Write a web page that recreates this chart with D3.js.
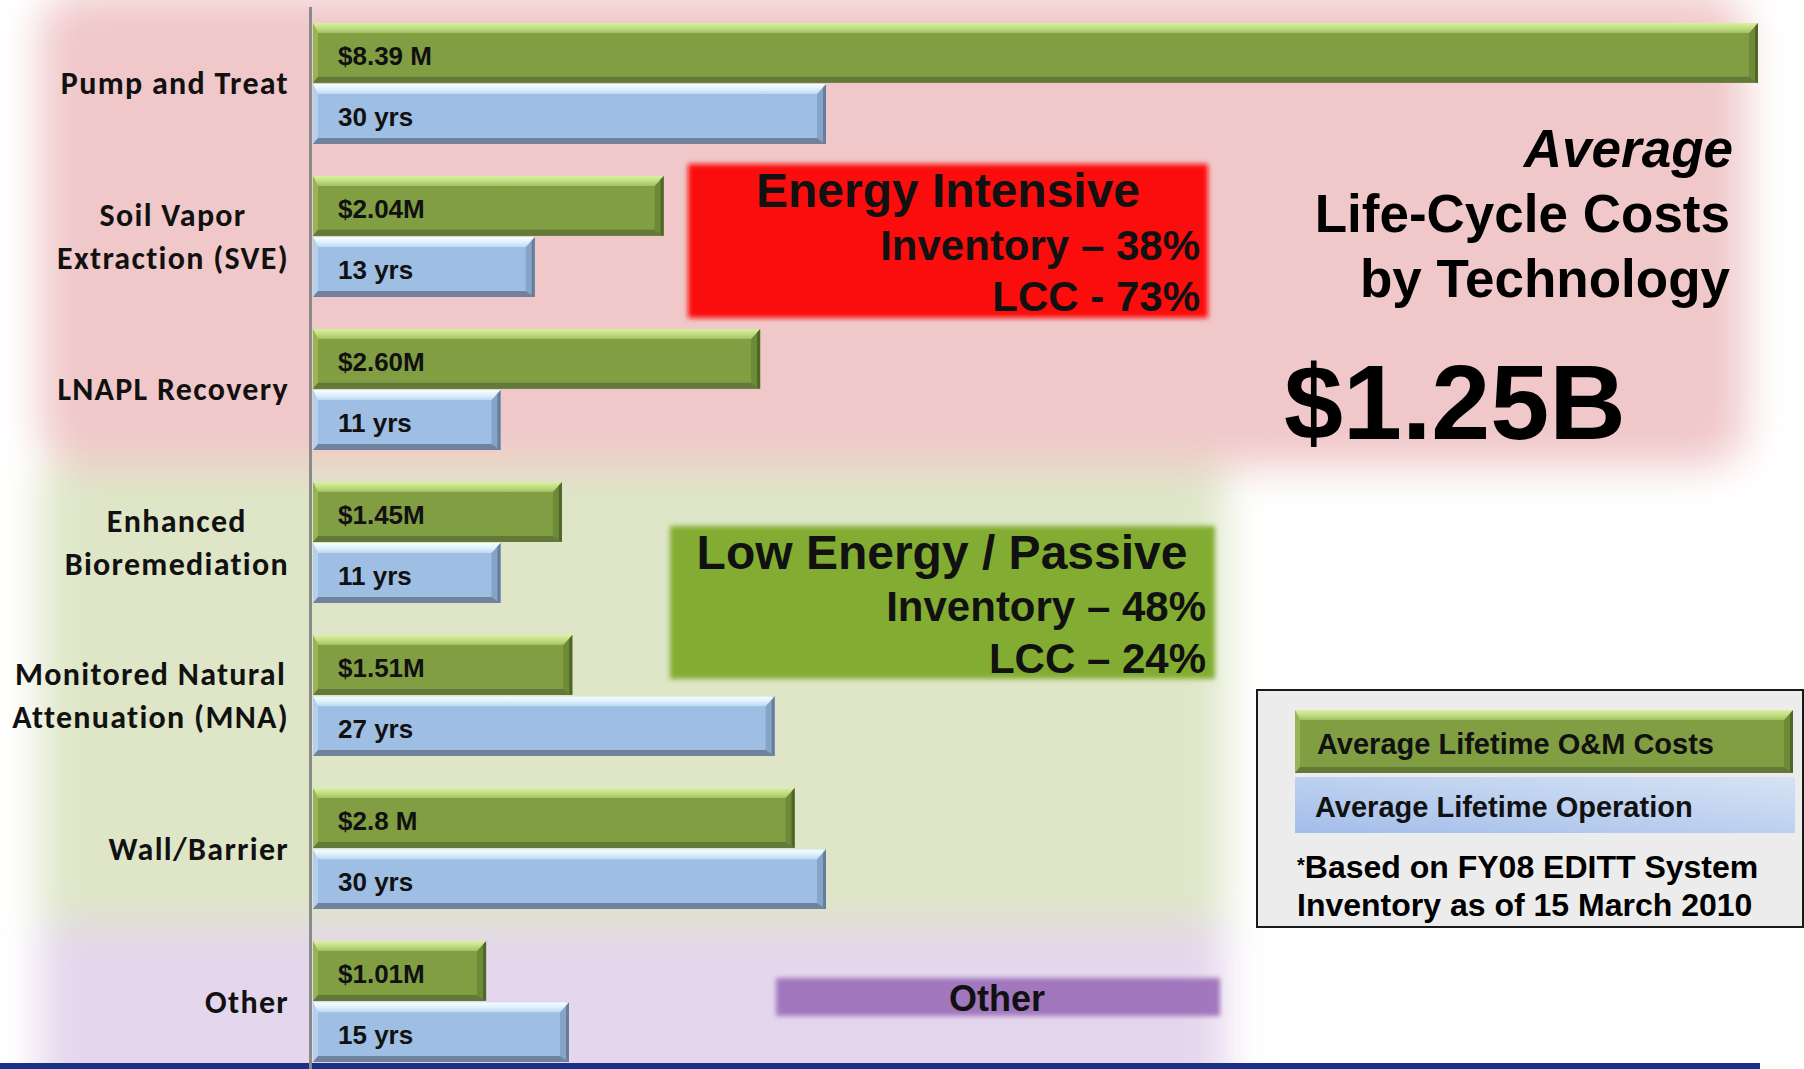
<!DOCTYPE html>
<html>
<head>
<meta charset="utf-8">
<script src="https://cdn.jsdelivr.net/npm/d3@7"></script>
<style>
  html, body { margin: 0; padding: 0; background: #ffffff; }
  svg { display: block; }
</style>
</head>
<body>
<script>
// ---------------- DATA ----------------
const categories = ["Pump and Treat", "Soil Vapor Extraction (SVE)", "LNAPL Recovery",
  "Enhanced Bioremediation", "Monitored Natural Attenuation (MNA)", "Wall/Barrier", "Other"];
const categoryLines = [["Pump and Treat"], ["Soil Vapor", "Extraction (SVE)"], ["LNAPL Recovery"],
  ["Enhanced", "Bioremediation"], ["Monitored Natural", "Attenuation (MNA)"], ["Wall/Barrier"], ["Other"]];
const costs = [8.39, 2.04, 2.60, 1.45, 1.51, 2.8, 1.01];          // $M, average lifetime O&M cost
const costLabels = ["$8.39 M", "$2.04M", "$2.60M", "$1.45M", "$1.51M", "$2.8 M", "$1.01M"];
const years = [30, 13, 11, 11, 27, 30, 15];                        // average lifetime operation
const yearLabels = ["30 yrs", "13 yrs", "11 yrs", "11 yrs", "27 yrs", "30 yrs", "15 yrs"];
const seriesNames = ["Average Lifetime O&M Costs", "Average Lifetime Operation"];
const titleLines = ["Average", "Life-Cycle Costs", "by Technology"];
const totalLabel = "$1.25B";
const groupBoxes = [
  { title: "Energy Intensive", lines: ["Inventory \u2013 38%", "LCC - 73%"] },
  { title: "Low Energy / Passive", lines: ["Inventory \u2013 48%", "LCC \u2013 24%"] },
  { title: "Other", lines: [] }
];
const footnote = ["Based on FY08 EDITT System", "Inventory as of 15 March 2010"];

// ---------------- LAYOUT ----------------
const W = 1804, H = 1069;
const axisX = 312;
const arial = "'Liberation Sans', Arial, Helvetica, sans-serif";
const calibri = "Carlito, Calibri, Lato, 'Open Sans', sans-serif";

const svg = d3.select("body").append("svg").attr("width", W).attr("height", H);
const defs = svg.append("defs");

const fBg = defs.append("filter").attr("id", "bgblur").attr("filterUnits", "userSpaceOnUse")
  .attr("x", -200).attr("y", -200).attr("width", W + 400).attr("height", H + 400);
fBg.append("feGaussianBlur").attr("stdDeviation", 20);
const fSoft = defs.append("filter").attr("id", "soft").attr("x", "-10%").attr("y", "-20%")
  .attr("width", "120%").attr("height", "140%");
fSoft.append("feGaussianBlur").attr("stdDeviation", 2.5);

function vGrad(id, stops, x2 = 0, y2 = 1, x1 = 0, y1 = 0) {
  const g = defs.append("linearGradient").attr("id", id)
    .attr("x1", x1).attr("y1", y1).attr("x2", x2).attr("y2", y2);
  stops.forEach(([o, c]) => g.append("stop").attr("offset", o).attr("stop-color", c));
}
vGrad("topGreen", [[0, "#d8f19e"], [0.5, "#c2de84"], [1, "#a2c060"]]);
vGrad("topBlue", [[0, "#f6ffff"], [0.5, "#def2fd"], [1, "#bcd8f2"]]);
vGrad("legBlue", [[0, "#a3bdea"], [1, "#d6e3f4"]], 1, 0, 0, 1);

// ---------------- SCALES ----------------
const y = d3.scaleBand().domain(categories).range([23, 1062]).paddingInner(0.21).paddingOuter(0);
const sub = d3.scaleBand().domain(seriesNames).range([0, y.bandwidth()]).paddingInner(0.02);
const xCost = d3.scaleLinear().domain([0, 8.39]).range([axisX, 1758]);
const xYears = d3.scaleLinear().domain([0, 30]).range([axisX, 826]);

// ---------------- BACKGROUND ZONES ----------------
const bg = svg.append("g").attr("filter", "url(#bgblur)");
const zoneTop = y(categories[0]) - 30, zoneSplit1 = (y(categories[2]) + y.bandwidth() + y(categories[3])) / 2,
      zoneSplit2 = (y(categories[5]) + y.bandwidth() + y(categories[6])) / 2;
bg.append("rect").attr("x", 40).attr("y", zoneTop).attr("width", 1705).attr("height", zoneSplit1 - zoneTop)
  .attr("rx", 40).attr("fill", "#f0c8c9");
bg.append("rect").attr("x", 40).attr("y", zoneSplit1).attr("width", 1185).attr("height", zoneSplit2 - zoneSplit1)
  .attr("fill", "#dee6c7");
bg.append("rect").attr("x", 40).attr("y", zoneSplit2).attr("width", 1185).attr("height", H + 40 - zoneSplit2)
  .attr("fill", "#e4d6ec");
svg.append("rect").attr("x", 0).attr("y", H - 6).attr("width", 1760).attr("height", 6).attr("fill", "#1b3187");

// axis line
svg.append("line").attr("x1", axisX - 1.5).attr("x2", axisX - 1.5).attr("y1", 7).attr("y2", H)
  .attr("stroke", "#8a8a8a").attr("stroke-width", 3);

// ---------------- BARS ----------------
const pal = {
  green: { main: "#819e43", top: "url(#topGreen)", left: "#98b556", right: "#6d8a37", edge: "#4f6628", bottom: "#62793a" },
  blue:  { main: "#9ebee4", top: "url(#topBlue)",  left: "#b4d0ee", right: "#86a3c8", edge: "#667d9c", bottom: "#71839c" }
};
function bevelBar(g, x0, y0, x1, y1, p) {
  const bt = 10, bb = 6, br = 9;
  g.append("rect").attr("x", x0).attr("y", y0).attr("width", x1 - x0).attr("height", y1 - y0).attr("fill", p.main);
  g.append("polygon").attr("fill", p.left)
    .attr("points", [[x0, y0], [x0 + 5, y0 + bt], [x0 + 5, y1 - bb], [x0, y1]].join(" "));
  g.append("polygon").attr("fill", p.right)
    .attr("points", [[x1, y0], [x1, y1], [x1 - br, y1 - bb], [x1 - br, y0 + bt]].join(" "));
  g.append("rect").attr("x", x1 - 3).attr("y", y0).attr("width", 3).attr("height", y1 - y0).attr("fill", p.edge);
  g.append("polygon").attr("fill", p.bottom)
    .attr("points", [[x0, y1], [x1, y1], [x1 - br, y1 - bb], [x0 + 5, y1 - bb]].join(" "));
  g.append("polygon").attr("fill", p.top)
    .attr("points", [[x0, y0], [x1, y0], [x1 - br, y0 + bt], [x0 + 5, y0 + bt]].join(" "));
}

const groups = svg.selectAll("g.cat").data(categories).join("g").attr("class", "cat")
  .attr("transform", d => `translate(0,${y(d)})`);

groups.each(function (d, i) {
  const g = d3.select(this);
  const gy0 = sub(seriesNames[0]), gy1 = gy0 + sub.bandwidth();
  bevelBar(g, xCost(0) + 1, gy0, xCost(costs[i]), gy1, pal.green);
  const by0 = sub(seriesNames[1]), by1 = by0 + sub.bandwidth();
  bevelBar(g, xYears(0) + 1, by0, xYears(years[i]), by1, pal.blue);

  g.append("text").attr("x", axisX + 26).attr("y", (gy0 + gy1) / 2 + 12)
    .attr("font-family", arial).attr("font-weight", "bold").attr("font-size", 26).attr("fill", "#111")
    .text(costLabels[i]);
  g.append("text").attr("x", axisX + 26).attr("y", (by0 + by1) / 2 + 12)
    .attr("font-family", arial).attr("font-weight", "bold").attr("font-size", 26).attr("fill", "#111")
    .text(yearLabels[i]);

  // category label
  const lines = categoryLines[i];
  const cy = y.bandwidth() / 2 + 11;
  const lh = 42.5;
  const t = g.append("g");
  const texts = lines.map((ln, k) => t.append("text")
    .attr("y", cy + (k - (lines.length - 1) / 2) * lh)
    .attr("font-family", calibri).attr("font-weight", "bold").attr("font-size", 32)
    .attr("letter-spacing", 1.3).attr("fill", "#111")
    .attr("text-anchor", "middle").text(ln));
  const maxW = d3.max(texts, s => s.node().getComputedTextLength());
  texts.forEach(s => s.attr("x", 289 - maxW / 2));
});

// ---------------- ANNOTATION BOXES ----------------
function annoBox(x, y0, w, h, color, box, titleY, titleCx, titleSize, lineYs, lineRight, lineSize) {
  svg.append("rect").attr("x", x).attr("y", y0).attr("width", w).attr("height", h)
    .attr("fill", color).attr("filter", "url(#soft)");
  svg.append("text").attr("x", titleCx).attr("y", titleY).attr("text-anchor", "middle")
    .attr("font-family", arial).attr("font-weight", "bold").attr("font-size", titleSize).attr("fill", "#111")
    .text(box.title);
  box.lines.forEach((ln, k) => svg.append("text").attr("x", lineRight).attr("y", lineYs[k])
    .attr("text-anchor", "end").attr("font-family", arial).attr("font-weight", "bold")
    .attr("font-size", lineSize).attr("fill", "#111").text(ln));
}
annoBox(688, 164, 520, 154, "#fc0a0a", groupBoxes[0], 207, 948, 48, [260, 311], 1200, 42);
annoBox(670, 526, 545, 153, "#82ad31", groupBoxes[1], 569, 942, 48, [621, 673], 1206, 42);
annoBox(776, 978, 444, 38, "#a177be", groupBoxes[2], 1011, 997, 36, [], 0, 0);

// ---------------- TITLE ----------------
const titleG = svg.append("g").attr("font-family", arial).attr("font-weight", "bold")
  .attr("fill", "#000").attr("text-anchor", "end");
titleG.append("text").attr("x", 1733).attr("y", 167).attr("font-size", 53).attr("font-style", "italic").text(titleLines[0]);
titleG.append("text").attr("x", 1730).attr("y", 232).attr("font-size", 53).text(titleLines[1]);
titleG.append("text").attr("x", 1730).attr("y", 297).attr("font-size", 53).text(titleLines[2]);
svg.append("text").attr("x", 1284).attr("y", 439).attr("font-family", arial).attr("font-weight", "bold")
  .attr("font-size", 106).attr("fill", "#000").text(totalLabel);

// ---------------- LEGEND ----------------
const leg = svg.append("g");
leg.append("rect").attr("x", 1257).attr("y", 690).attr("width", 546).attr("height", 237)
  .attr("fill", "#ececec").attr("stroke", "#1a1a1a").attr("stroke-width", 2);
bevelBar(leg, 1295, 710, 1793, 773, pal.green);
leg.append("rect").attr("x", 1295).attr("y", 777).attr("width", 500).attr("height", 56).attr("fill", "url(#legBlue)");
leg.append("text").attr("x", 1317).attr("y", 754).attr("font-family", arial).attr("font-weight", "bold")
  .attr("font-size", 29).attr("fill", "#111").text(seriesNames[0]);
leg.append("text").attr("x", 1315).attr("y", 817).attr("font-family", arial).attr("font-weight", "bold")
  .attr("font-size", 29).attr("fill", "#111").text(seriesNames[1]);
const fn1 = leg.append("text").attr("x", 1297).attr("y", 878).attr("font-family", arial).attr("font-weight", "bold")
  .attr("font-size", 32).attr("fill", "#000");
fn1.append("tspan").attr("font-size", 20).attr("dy", -6).text("*");
fn1.append("tspan").attr("dy", 6).text(footnote[0]);
leg.append("text").attr("x", 1297).attr("y", 916).attr("font-family", arial).attr("font-weight", "bold")
  .attr("font-size", 32).attr("fill", "#000").text(footnote[1]);
</script>
</body>
</html>
